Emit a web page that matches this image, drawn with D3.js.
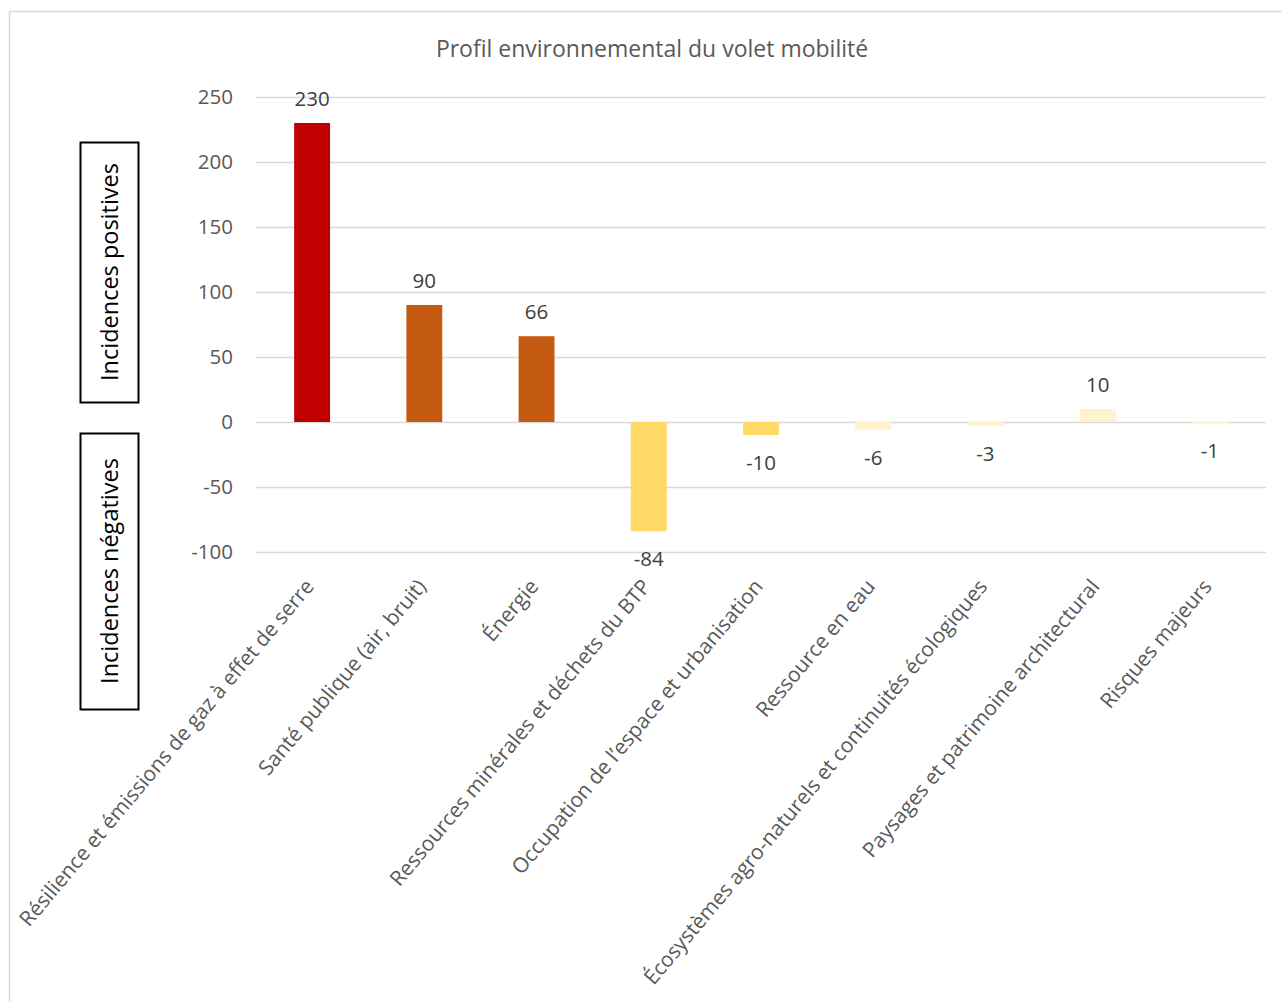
<!DOCTYPE html>
<html lang="fr">
<head>
<meta charset="utf-8">
<script src="https://cdn.jsdelivr.net/npm/d3@7"></script>
<style>
  html, body { margin: 0; padding: 0; background: #fff; }
  svg { display: block; }
  text { font-family: "Open Sans", Lato, sans-serif; }
</style>
</head>
<body>
<div id="chart"></div>
<script>
// Profil environnemental : somme des incidences par thématique
const categories = [
  "Résilience et émissions de gaz à effet de serre",
  "Santé publique (air, bruit)",
  "Énergie",
  "Ressources minérales et déchets du BTP",
  "Occupation de l’espace et urbanisation",
  "Ressource en eau",
  "Écosystèmes agro-naturels et continuités écologiques",
  "Paysages et patrimoine architectural",
  "Risques majeurs"
];
const values = [230, 90, 66, -84, -10, -6, -3, 10, -1];
const barColors = ["#C00000", "#C55A11", "#C55A11", "#FFD966", "#FFD966",
                   "#FFF2CC", "#FFF2CC", "#FFF2CC", "#FFF2CC"];
const yTicks = [250, 200, 150, 100, 50, 0, -50, -100];
const titleText = "Profil environnemental du volet mobilité";
const boxLabels = ["Incidences positives", "Incidences négatives"];

const W = 1282, H = 1001;
const plot = { left: 256, right: 1266, top: 97, bottom: 552 };
const FONT = "'Open Sans', Lato, sans-serif";

const svg = d3.select("#chart").append("svg")
  .attr("width", W).attr("height", H);

// chart frame
svg.append("rect")
  .attr("x", 9.5).attr("y", 11.5)
  .attr("width", W + 20).attr("height", H + 20)
  .attr("fill", "none").attr("stroke", "#d9d9d9").attr("stroke-width", 1.5);

const x = d3.scaleBand().domain(categories)
  .range([plot.left, plot.right]).paddingInner(0.68).paddingOuter(0.34);
const y = d3.scaleLinear().domain([-100, 250]).range([plot.bottom, plot.top]);

// title
svg.append("text")
  .attr("x", 652).attr("y", 57)
  .attr("text-anchor", "middle")
  .attr("font-size", 23).attr("fill", "#595959")
  .text(titleText);

// gridlines + y labels
const yAxis = d3.axisLeft(y).tickValues(yTicks).tickFormat(d => String(d))
  .tickSize(-(plot.right - plot.left)).tickPadding(23);
const gy = svg.append("g")
  .attr("transform", `translate(${plot.left},0)`)
  .call(yAxis);
gy.select(".domain").remove();
gy.selectAll(".tick line").attr("stroke", "#d9d9d9").attr("stroke-width", 1.5);
gy.selectAll(".tick text")
  .attr("font-size", 20.5).attr("fill", "#595959")
  .attr("font-family", FONT);

// bars
svg.append("g").selectAll("rect")
  .data(values)
  .join("rect")
  .attr("x", (d, i) => x(categories[i]))
  .attr("width", x.bandwidth())
  .attr("y", d => y(Math.max(0, d)))
  .attr("height", d => Math.abs(y(d) - y(0)))
  .attr("fill", (d, i) => barColors[i]);

// value labels
svg.append("g").selectAll("text")
  .data(values)
  .join("text")
  .attr("x", (d, i) => x(categories[i]) + x.bandwidth() / 2)
  .attr("y", d => d >= 0 ? y(d) - 17 : y(d) + 35)
  .attr("text-anchor", "middle")
  .attr("font-size", 20.5).attr("fill", "#404040")
  .text(d => d);

// category labels, rotated
svg.append("g").selectAll("text")
  .data(categories)
  .join("text")
  .attr("transform", d => `translate(${x(d) + x.bandwidth() / 2 + 3},587) rotate(-50)`)
  .attr("text-anchor", "end")
  .attr("font-size", 20.9).attr("fill", "#595959")
  .text(d => d);

// side boxes for positive / negative incidences
const boxes = [
  { y0: 142, y1: 402 },
  { y0: 433, y1: 709 }
];
boxes.forEach((b, i) => {
  svg.append("rect")
    .attr("x", 80.5).attr("y", b.y0 + 0.5)
    .attr("width", 58).attr("height", b.y1 - b.y0)
    .attr("fill", "#fff").attr("stroke", "#000").attr("stroke-width", 2);
  svg.append("text")
    .attr("transform", `translate(${118},${(b.y0 + b.y1) / 2}) rotate(-90)`)
    .attr("text-anchor", "middle")
    .attr("font-size", 23.5).attr("fill", "#000")
    .text(boxLabels[i]);
});
</script>
</body>
</html>
